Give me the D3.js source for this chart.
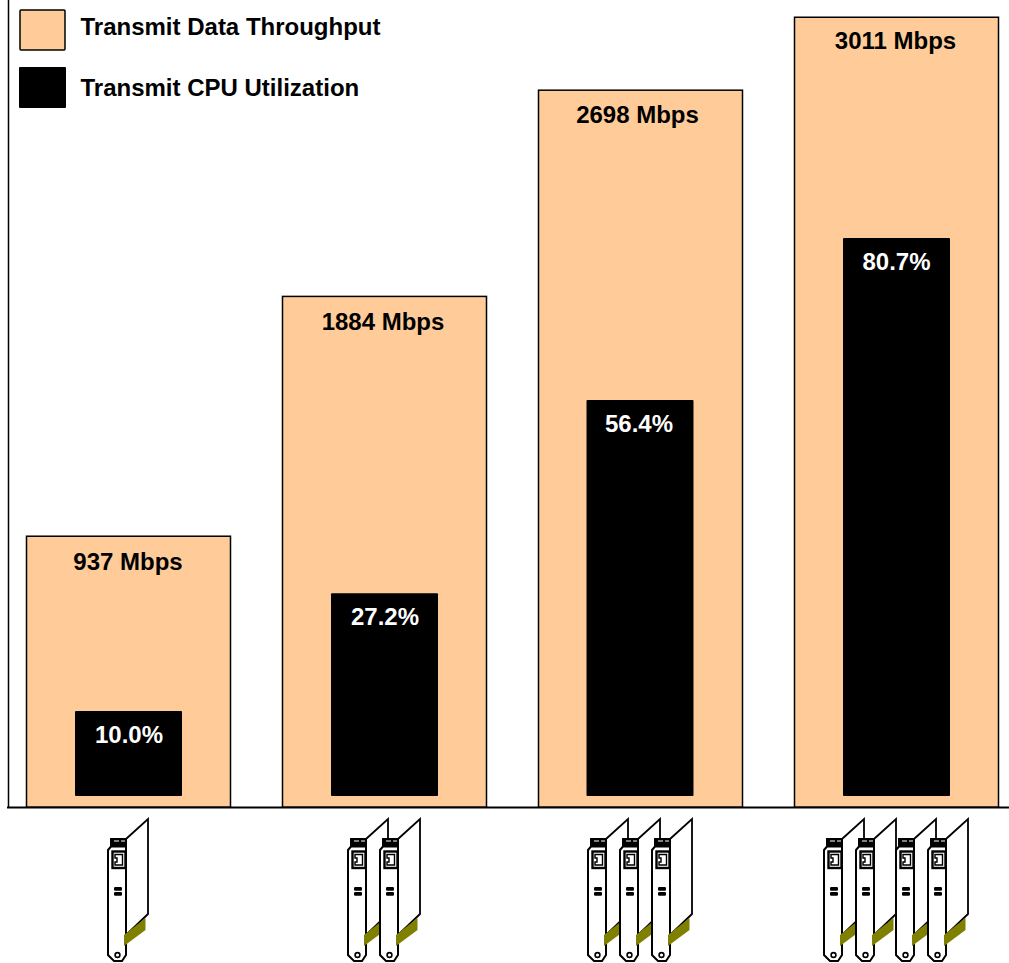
<!DOCTYPE html>
<html><head><meta charset="utf-8">
<script src="https://cdn.jsdelivr.net/npm/d3@7/dist/d3.min.js"></script>
<style>html,body{margin:0;padding:0;background:#fff}svg{display:block}text{font-family:"Liberation Sans",Arial,sans-serif;font-weight:bold}</style>
</head><body><div id="c"></div>
<script>
const categories = ["1 adapter","2 adapters","3 adapters","4 adapters"];
const throughputLabels = ["937 Mbps","1884 Mbps","2698 Mbps","3011 Mbps"];
const throughputBarValues = [1033,1947,2733,3011];
const cpuValues = [10.0,27.2,56.4,80.7];
const cpuBarValues = [10.0,27.6,56.5,80.7];
const adapterOffsets = [[0],[0,32],[0,32,64],[0,32,72,104]];
const legendLabels = ["Transmit Data Throughput","Transmit CPU Utilization"];
const W=1009,H=963,base=807,cpuBase=796,peach="#FFCC99",olive="#808000",bw=205;
const svg=d3.select("#c").append("svg").attr("width",W).attr("height",H);
const xs=d3.scaleBand().domain(categories).range([26,1050]).padding(0);
const y=d3.scaleLinear().domain([0,3011]).range([base,17]);
const yc=d3.scaleLinear().domain([0,100]).range([778,109]);
const g=svg.append("g");
g.selectAll("rect.t").data(categories).join("rect").attr("class","t")
 .attr("x",d=>xs(d)+0.5).attr("width",bw-1).attr("y",(d,i)=>y(throughputBarValues[i])+0.25)
 .attr("height",(d,i)=>base-y(throughputBarValues[i])).attr("fill",peach).attr("stroke","#000").attr("stroke-width",1.5);
g.selectAll("rect.c").data(categories).join("rect").attr("class","c")
 .attr("x",(d,i)=>xs(d)+49-(i==2?0.5:0)).attr("width",107).attr("y",(d,i)=>yc(cpuBarValues[i]))
 .attr("height",(d,i)=>cpuBase-yc(cpuBarValues[i])).attr("rx",1).attr("fill","#000");
const labelDrop=[34.5,34,33.5,32], labelShift=[0,-1,-2.5,-0.5], cpuShift=[0,0,-2,-0.5];
g.selectAll("text.t").data(categories).join("text").attr("class","t")
 .attr("x",(d,i)=>xs(d)+102+labelShift[i]).attr("y",(d,i)=>y(throughputBarValues[i])+labelDrop[i]).attr("text-anchor","middle")
 .attr("font-size",24).attr("fill","#000").text((d,i)=>throughputLabels[i]);
g.selectAll("text.c").data(categories).join("text").attr("class","c")
 .attr("x",(d,i)=>xs(d)+103+cpuShift[i]).attr("y",(d,i)=>yc(cpuBarValues[i])+32).attr("text-anchor","middle")
 .attr("font-size",24).attr("fill","#fff").text((d,i)=>cpuValues[i].toFixed(1)+"%");
// axes
svg.append("line").attr("x1",8.5).attr("x2",8.5).attr("y1",0).attr("y2",base+1).attr("stroke","#000").attr("stroke-width",1.5);
svg.append("line").attr("x1",7).attr("x2",W).attr("y1",base+0.5).attr("y2",base+0.5).attr("stroke","#000").attr("stroke-width",2);
// legend
const leg=svg.selectAll("g.l").data(legendLabels).join("g").attr("class","l");
leg.append("rect").attr("x",(d,i)=>i?19:20).attr("y",(d,i)=>i?67:10).attr("width",(d,i)=>i?47:45).attr("height",(d,i)=>i?41:40)
 .attr("rx",1).attr("fill",(d,i)=>i?"#000":peach).attr("stroke","#000").attr("stroke-width",(d,i)=>i?0:1.5);
leg.append("text").attr("x",80.5).attr("y",(d,i)=>i?96:35).attr("font-size",24).attr("fill","#000").text(d=>d);
// adapter icon
function card(sel){
 sel.append("path").attr("d","M36,29 L58,9 L58,104 L36,125 Z").attr("fill","#fff").attr("stroke","#000").attr("stroke-width",1.8);
 sel.append("path").attr("d","M20,36 L20,28 L37,28 L37,36 Z").attr("fill","#000");
 sel.append("path").attr("d","M24,31 H29 M31,31 H35").attr("stroke","#fff").attr("stroke-width",1.2);
 sel.append("path").attr("d","M18,40 L21,36.5 H36 V145 L32,151 H24 L18,145 Z").attr("fill","#fff").attr("stroke","#000").attr("stroke-width",2);
 sel.append("rect").attr("x",22.5).attr("y",41.5).attr("width",13).attr("height",16.5).attr("fill","#fff").attr("stroke","#000").attr("stroke-width",2.4);
 sel.append("path").attr("d","M25,44.5 H32.5 V55 H25 V52 H27 V48 H25 Z").attr("fill","#fff").attr("stroke","#000").attr("stroke-width",1.4);
 sel.append("rect").attr("x",24).attr("y",77).attr("width",8).attr("height",3.8).attr("rx",1.2).attr("fill","#000");
 sel.append("rect").attr("x",24).attr("y",82).attr("width",8).attr("height",3.8).attr("rx",1.2).attr("fill","#000");
 sel.append("path").attr("d","M34,125 L55.5,108 L55.5,120 L34,136 Z").attr("fill",olive);
 sel.append("circle").attr("cx",27.5).attr("cy",145).attr("r",2.4).attr("fill","#fff").attr("stroke","#000").attr("stroke-width",1.6);
}
const iconStart=[90,330,570,806];
categories.forEach((c,i)=>{
 adapterOffsets[i].forEach(o=>{
  svg.append("g").attr("transform",`translate(${iconStart[i]+o},810)`).call(card);
 });
});
</script></body></html>
